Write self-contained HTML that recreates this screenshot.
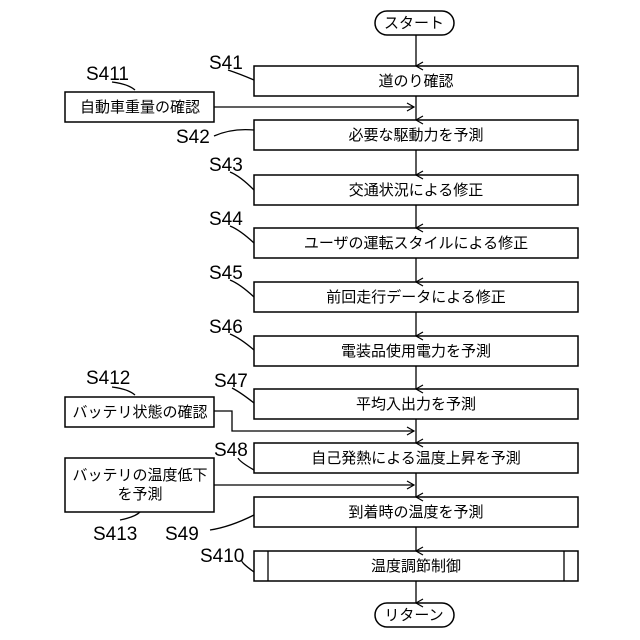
<!DOCTYPE html><html><head><style>body{margin:0;background:#fff}svg{display:block}text{font-family:"Liberation Sans","Noto Sans CJK JP",sans-serif;fill:#000}</style></head><body>
<svg width="640" height="640" viewBox="0 0 640 640">
<defs><marker id="a" markerWidth="10" markerHeight="10" refX="5" refY="9" orient="auto" markerUnits="userSpaceOnUse"><path d="M1,2 L5,9 L9,2" fill="none" stroke="#000" stroke-width="1.2"/></marker>
<marker id="r" markerWidth="10" markerHeight="10" refX="9" refY="5" orient="auto" markerUnits="userSpaceOnUse"><path d="M2,1 L9,5 L2,9" fill="none" stroke="#000" stroke-width="1.2"/></marker></defs>
<g stroke="#000" stroke-width="1.5" fill="#fff">
<rect x="375" y="11" width="79" height="24" rx="12"/>
<rect x="375" y="603" width="79" height="24" rx="12"/>
<rect x="254" y="66" width="324" height="30"/>
<rect x="254" y="120" width="324" height="30"/>
<rect x="254" y="175" width="324" height="30"/>
<rect x="254" y="228" width="324" height="30"/>
<rect x="254" y="282" width="324" height="30"/>
<rect x="254" y="336" width="324" height="30"/>
<rect x="254" y="389" width="324" height="30"/>
<rect x="254" y="443" width="324" height="30"/>
<rect x="254" y="497" width="324" height="30"/>
<rect x="254" y="551" width="324" height="30"/>
<rect x="65" y="92" width="149" height="30"/>
<rect x="65" y="397" width="149" height="30"/>
<rect x="65" y="458" width="149" height="54"/>
</g>
<g stroke="#000" stroke-width="1.3" fill="none">
<line x1="268" y1="551" x2="268" y2="581"/><line x1="564" y1="551" x2="564" y2="581"/>
<line x1="416" y1="35" x2="416" y2="66" marker-end="url(#a)"/>
<line x1="416" y1="96" x2="416" y2="120" marker-end="url(#a)"/>
<line x1="416" y1="150" x2="416" y2="175" marker-end="url(#a)"/>
<line x1="416" y1="205" x2="416" y2="228" marker-end="url(#a)"/>
<line x1="416" y1="258" x2="416" y2="282" marker-end="url(#a)"/>
<line x1="416" y1="312" x2="416" y2="336" marker-end="url(#a)"/>
<line x1="416" y1="366" x2="416" y2="389" marker-end="url(#a)"/>
<line x1="416" y1="419" x2="416" y2="443" marker-end="url(#a)"/>
<line x1="416" y1="473" x2="416" y2="497" marker-end="url(#a)"/>
<line x1="416" y1="527" x2="416" y2="551" marker-end="url(#a)"/>
<line x1="416" y1="581" x2="416" y2="603" marker-end="url(#a)"/>
<line x1="214" y1="107" x2="414" y2="107" marker-end="url(#r)"/>
<polyline points="214,411 232,411 232,431 414,431" marker-end="url(#r)"/>
<line x1="214" y1="485" x2="414" y2="485" marker-end="url(#r)"/>
<path d="M254,80 Q240,74 228,70"/><path d="M254,130 Q232,128 214,136"/>
<path d="M254,190 Q240,176 230,172"/><path d="M254,243 Q240,230 230,226"/>
<path d="M254,297 Q240,284 230,280"/><path d="M254,350 Q240,338 230,334"/>
<path d="M254,403 Q240,392 232,388"/><path d="M254,470 Q240,462 238,458"/>
<path d="M254,515 Q230,527 210,530"/><path d="M254,572 Q240,562 242,560"/>
<path d="M135,90 Q128,84 112,82"/><path d="M135,395 Q128,389 112,387"/><path d="M140,512 Q135,517 120,520"/>
</g>
<g font-size="15" text-anchor="middle">
<text x="414" y="28">スタート</text><text x="414" y="620">リターン</text>
<text x="416" y="86">道のり確認</text>
<text x="416" y="140">必要な駆動力を予測</text>
<text x="416" y="195">交通状況による修正</text>
<text x="416" y="248">ユーザの運転スタイルによる修正</text>
<text x="416" y="302">前回走行データによる修正</text>
<text x="416" y="356">電装品使用電力を予測</text>
<text x="416" y="409">平均入出力を予測</text>
<text x="416" y="463">自己発熱による温度上昇を予測</text>
<text x="416" y="517">到着時の温度を予測</text>
<text x="416" y="571">温度調節制御</text>
<text x="140" y="112">自動車重量の確認</text>
<text x="140" y="417">バッテリ状態の確認</text>
<text x="140" y="480">バッテリの温度低下</text>
<text x="140" y="499">を予測</text>
</g>
<g font-size="19">
<text x="209" y="69">S41</text><text x="86" y="80">S411</text><text x="176" y="143">S42</text>
<text x="209" y="171">S43</text><text x="209" y="225">S44</text><text x="209" y="279">S45</text>
<text x="209" y="333">S46</text><text x="86" y="384">S412</text><text x="214" y="387">S47</text>
<text x="214" y="456">S48</text><text x="93" y="540">S413</text><text x="165" y="540">S49</text>
<text x="200" y="562">S410</text>
</g>
</svg></body></html>
